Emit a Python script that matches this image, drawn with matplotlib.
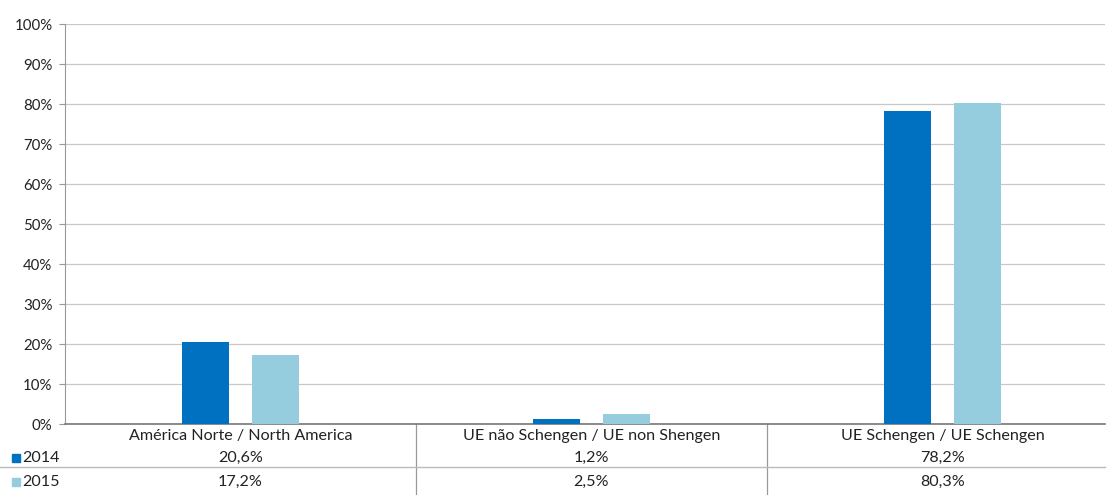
import matplotlib
matplotlib.use("Agg")
import matplotlib.pyplot as plt
from matplotlib.patches import Rectangle
import matplotlib.transforms as mtransforms

categories = ["América Norte / North America", "UE não Schengen / UE non Shengen", "UE Schengen / UE Schengen"]
series_names = ["2014", "2015"]
values_2014 = [20.6, 1.2, 78.2]
values_2015 = [17.2, 2.5, 80.3]
labels_2014 = ["20,6%", "1,2%", "78,2%"]
labels_2015 = ["17,2%", "2,5%", "80,3%"]
yticks = [0, 10, 20, 30, 40, 50, 60, 70, 80, 90, 100]
colors = ["#0070C0", "#96CDDE"]

plt.rcParams['font.family'] = ['Lato', 'DejaVu Sans']
W, H = 1108, 495
fig = plt.figure(figsize=(W/100, H/100), dpi=100)
ax = fig.add_axes([65/W, 71/H, 1040/W, 400/H])

x = list(range(len(categories)))
bw = 0.134
off = 0.1
ax.bar([i - off for i in x], values_2014, width=bw, color=colors[0], zorder=3)
ax.bar([i + off for i in x], values_2015, width=bw, color=colors[1], zorder=3)

ax.set_xlim(-0.5, -0.5 + 1040 / 351)
ax.set_ylim(0, 100)
ax.set_yticks(yticks)
ax.set_yticklabels([f"{t}%" for t in yticks], fontsize=10.8, color="#222222")
ax.tick_params(axis='y', length=4, color="#999999", pad=5)
ax.set_xticks([])
ax.grid(axis='y', color="#C8C8C8", linewidth=0.9, zorder=0)
for s in ["top", "right"]:
    ax.spines[s].set_visible(False)
ax.spines["left"].set_color("#999999")
ax.spines["bottom"].set_color("#777777")
ax.spines["bottom"].set_linewidth(1.2)

trans = mtransforms.blended_transform_factory(ax.transData, ax.transAxes)
ypx = lambda py: (424 - py) / 400.0
fs = 11.6
tc = "#222222"
for i, c in enumerate(categories):
    ax.text(i, ypx(436), c, transform=trans, ha='center', va='center', fontsize=fs, color=tc, clip_on=False)
    ax.text(i, ypx(458), labels_2014[i], transform=trans, ha='center', va='center', fontsize=fs, color=tc, clip_on=False)
    ax.text(i, ypx(482), labels_2015[i], transform=trans, ha='center', va='center', fontsize=fs, color=tc, clip_on=False)

# vertical separators of the table
for b in [0.5, 1.5]:
    ax.plot([b, b], [0, ypx(495)], transform=trans, color="#999999", lw=0.9, clip_on=False)
# horizontal separator between rows
fig.add_artist(plt.Line2D([0/W, 1105/W], [1 - 467/H, 1 - 467/H], color="#BBBBBB", lw=1.0))

# legend keys
for name, col, py in [(series_names[0], colors[0], 458), (series_names[1], colors[1], 482)]:
    fig.add_artist(Rectangle((12/W, 1 - (py + 4)/H), 8/W, 8/H, color=col))
    fig.text(22/W, 1 - py/H, name, ha='left', va='center', fontsize=fs, color=tc)

fig.savefig("out.png", dpi=100)
